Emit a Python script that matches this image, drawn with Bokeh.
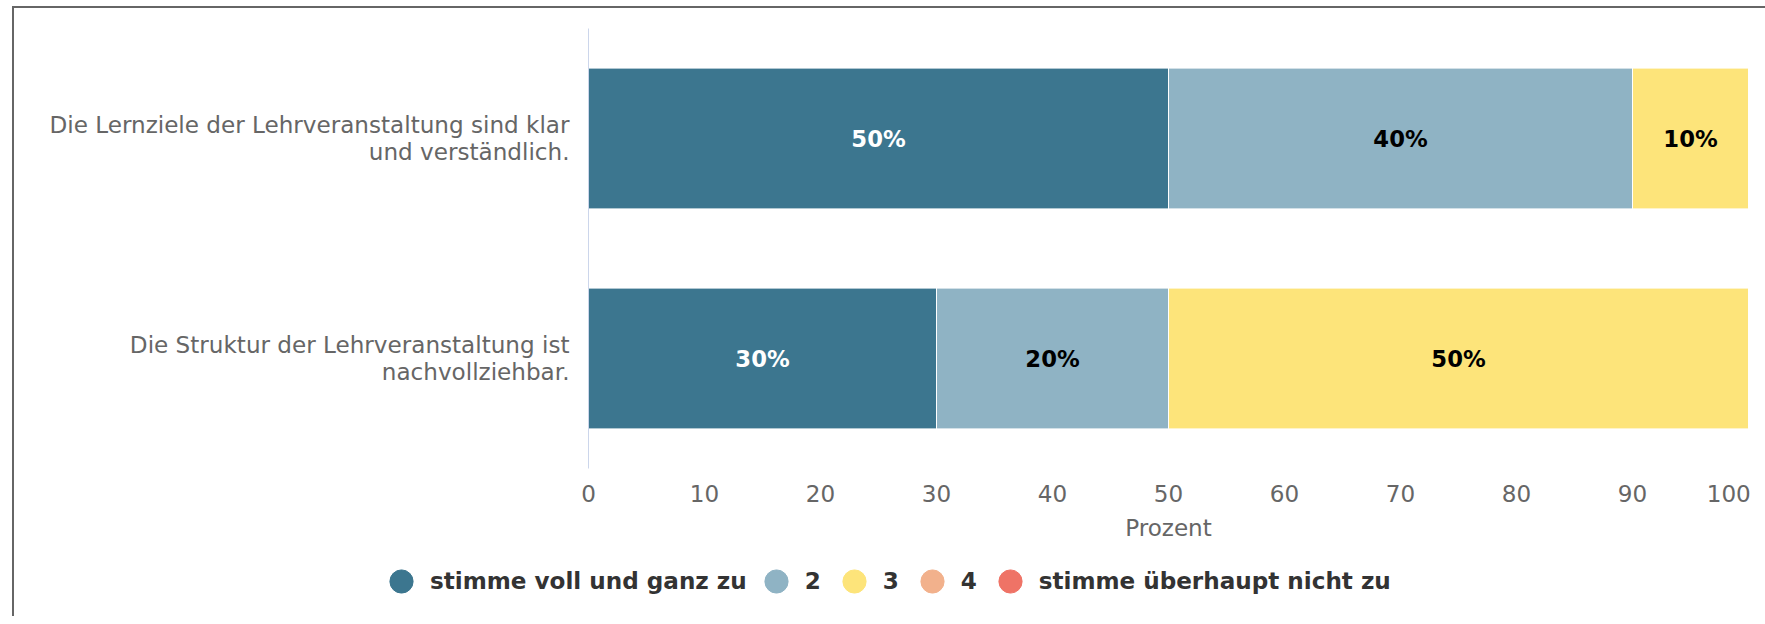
from bokeh.plotting import figure
from bokeh.layouts import column
from bokeh.models import (ColumnDataSource, Range1d, FixedTicker,
                          Legend, LegendItem, LinearAxis)
from bokeh.core.properties import value
from bokeh.embed import file_html
from bokeh.resources import INLINE

# ---- data ----
questions = [
    "Die Lernziele der Lehrveranstaltung sind klar und verständlich.",
    "Die Struktur der Lehrveranstaltung ist nachvollziehbar.",
]
question_lines = [
    ["Die Lernziele der Lehrveranstaltung sind klar", "und verständlich."],
    ["Die Struktur der Lehrveranstaltung ist", "nachvollziehbar."],
]
categories = ["stimme voll und ganz zu", "2", "3", "4", "stimme überhaupt nicht zu"]
s1 = [50, 30]
s2 = [40, 20]
s3 = [10, 50]
s4 = [0, 0]
s5 = [0, 0]
x_ticks = [0, 10, 20, 30, 40, 50, 60, 70, 80, 90, 100]
x_title = "Prozent"

colors = ["#3c768f", "#8fb3c4", "#fde47a", "#f2b18c", "#ef7366"]
label_colors = ["#ffffff", "#000000", "#000000", "#000000", "#000000"]
FONT = "DejaVu Sans"
FS = "23.1px"
FS_BAR = "22.7px"
LINE = 0.1227  # line spacing of the category labels, in category units

n = len(questions)
# category slot centres: first question on top
ypos = [n - i - 0.5 for i in range(n)]

series = [s1, s2, s3, s4, s5]
keys = ["c%d" % i for i in range(5)]
data = {"y": ypos}
for k, s in zip(keys, series):
    data[k] = s
src = ColumnDataSource(data)

p = figure(
    width=1751, height=548,
    y_range=Range1d(0, n),
    x_range=Range1d(0, 100),
    y_axis_location=None,
    output_backend="svg", toolbar_location=None,
    min_border_left=574, min_border_right=17, min_border_top=20, min_border_bottom=88,
)
p.frame_align = False
p.outline_line_color = None
p.background_fill_color = "white"
p.border_fill_color = "white"

p.hbar_stack(keys, y="y", height=0.64, color=colors, source=src,
             line_color="white", line_width=1)

# bar value labels
lx, ly, lt, lc = [], [], [], []
for qi in range(n):
    left = 0
    for si, s in enumerate(series):
        v = s[qi]
        if v > 0:
            lx.append(left + v / 2)
            ly.append(ypos[qi])
            lt.append("%d%%" % v)
            lc.append(label_colors[si])
        left += v
lsrc = ColumnDataSource(dict(x=lx, y=ly, t=lt, c=lc))
p.text(x="x", y="y", text="t", text_color="c", source=lsrc,
       text_font=value(FONT), text_font_style="bold", text_font_size=FS_BAR,
       text_align="center", text_baseline="middle")

p.xgrid.visible = False
p.ygrid.visible = False

# x axis
xa = p.xaxis[0]
xa.ticker = FixedTicker(ticks=x_ticks)
xa.axis_line_color = None
xa.major_tick_line_color = None
xa.minor_tick_line_color = None
xa.major_tick_out = 0
xa.major_label_standoff = 12
xa.major_label_text_font = FONT
xa.major_label_text_font_size = FS
xa.major_label_text_color = "#666666"
xa.major_label_overrides = {100: "100" + "\u00a0" * 2}
xa.axis_label = x_title
xa.axis_label_standoff = 5
xa.axis_label_text_font = FONT
xa.axis_label_text_font_size = FS
xa.axis_label_text_font_style = "normal"
xa.axis_label_text_color = "#666666"

# y axis: category labels written as two lines each
ticks, overrides = [], {}
for i in range(n):
    lines = question_lines[i]
    for j, line in enumerate(lines):
        t = round(ypos[i] + ((len(lines) - 1) / 2 - j) * LINE, 4)
        ticks.append(t)
        overrides[t] = line
ya = LinearAxis(ticker=FixedTicker(ticks=sorted(ticks)))
ya.axis_line_color = "#ccd6eb"
ya.axis_line_width = 1
ya.major_tick_line_color = None
ya.minor_tick_line_color = None
ya.major_tick_out = 0
ya.major_tick_in = 0
ya.major_label_standoff = 19
ya.major_label_text_font = FONT
ya.major_label_text_font_size = FS
ya.major_label_text_color = "#666666"
ya.major_label_text_align = "right"
ya.major_label_overrides = overrides
p.add_layout(ya, "left")

# legend strip
pl = figure(
    width=1751, height=60,
    x_range=Range1d(0, 1), y_range=Range1d(0, 1),
    x_axis_location=None, y_axis_location=None,
    output_backend="svg", toolbar_location=None,
    min_border_left=0, min_border_right=0, min_border_top=0, min_border_bottom=0,
)
pl.frame_align = False
pl.outline_line_color = None
pl.xgrid.visible = False
pl.ygrid.visible = False
items = []
nan = float("nan")
for cat, col in zip(categories, colors):
    # legend proxy: one undefined point, so only the legend swatch is drawn
    r = pl.scatter(x=[nan], y=[nan], marker="circle", fill_color=col, line_color=col)
    items.append(LegendItem(label=cat, renderers=[r]))
legend = Legend(items=items, orientation="horizontal", location=(358, 6),
                glyph_width=58, glyph_height=58, label_standoff=0, spacing=0,
                padding=0, margin=0, border_line_color=None, background_fill_alpha=0,
                label_text_font=FONT, label_text_font_size=FS,
                label_text_font_style="bold", label_text_color="#333333")
pl.add_layout(legend, "center")

layout = column(p, pl, spacing=0)
layout.styles = {"margin-left": "12px", "margin-top": "6px",
                 "border-left": "2px solid #666666", "border-top": "2px solid #666666"}

open("out.html", "w").write(file_html(layout, INLINE))
